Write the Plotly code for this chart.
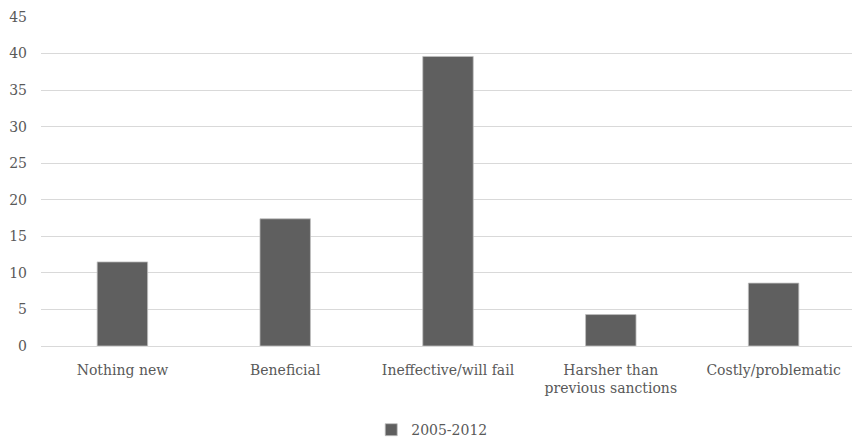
import plotly.graph_objects as go

categories = ["Nothing new", "Beneficial", "Ineffective/will fail",
              "Harsher than<br>previous sanctions", "Costly/problematic"]
values = [11.5, 17.4, 39.6, 4.3, 8.6]
series_name = "2005-2012"
y_ticks = [0, 5, 10, 15, 20, 25, 30, 35, 40, 45]

FONT = "DejaVu Serif"

fig = go.Figure()
fig.add_trace(go.Bar(
    x=categories, y=values, name=series_name,
    marker=dict(color="#5f5f5f", line=dict(color="#bfbfbf", width=0.8)),
    showlegend=True,
))

fig.update_layout(
    width=860, height=442,
    margin=dict(l=33, r=13, t=9, b=104, autoexpand=False),
    paper_bgcolor="white", plot_bgcolor="white",
    font=dict(family=FONT, size=14, color="#595959"),
    bargap=0.69,
    showlegend=True,
    legend=dict(orientation="h", x=0.48, xanchor="center", y=-0.207, yanchor="top",
                font=dict(family=FONT, size=14, color="#595959"), itemwidth=30),
    xaxis=dict(showgrid=False, showline=True, linecolor="#d9d9d9", linewidth=1,
               ticks="", tickfont=dict(family=FONT, size=14), ticklabelstandoff=11),
    yaxis=dict(range=[0, 45], tickvals=y_ticks, showgrid=True, gridcolor="#d9d9d9",
               gridwidth=1, zeroline=False, showline=False, ticks="",
               ticklabelstandoff=13, tickfont=dict(family=FONT, size=14)),
)

fig.write_html("out.html")
